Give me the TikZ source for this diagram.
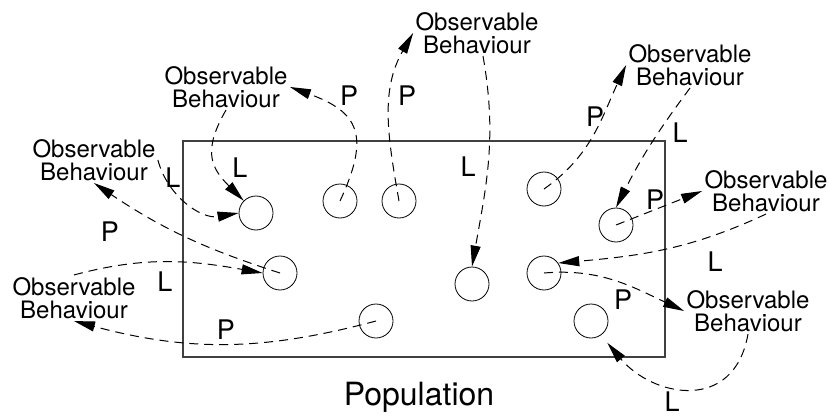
\documentclass[tikz,border=0pt]{standalone}
\usepackage{fontspec}
\setmainfont{TeX Gyre Heros}
\usetikzlibrary{arrows.meta}

\begin{document}
\begin{tikzpicture}[x=0.5pt, y=-0.5pt, >={Triangle[length=10.5pt,width=5pt]},
  every node/.style={font=\fontsize{13.5}{14}\selectfont},
  member/.style={draw, circle, minimum size=17pt, inner sep=0pt},
  behav/.style={align=center, inner sep=1pt, font=\fontsize{12}{11.5}\selectfont},
  link/.style={->, dash pattern=on 4.5pt off 3pt, line width=0.5pt}]
\useasboundingbox (0,0) rectangle (829,417);
\node[draw=black!75, line width=0.7pt, minimum width=241pt, minimum height=108pt, inner sep=0pt] (popbox) at (424,249) {};
\node[font=\fontsize{16}{18}\selectfont, anchor=base] (poplabel) at (419,405) {Population};
% members of the population
\node[member] (c1) at (256,213) {};
\node[member] (c2) at (340,201) {};
\node[member] (c3) at (399,201) {};
\node[member] (c4) at (280,273) {};
\node[member] (c5) at (376,321) {};
\node[member] (c6) at (472,284) {};
\node[member] (c7) at (544,273) {};
\node[member] (c8) at (544,189) {};
\node[member] (c9) at (616,225) {};
\node[member] (c10) at (591,321) {};
% observable behaviour
\node[behav] (ob1) at (477,33) {Observable\\Behaviour};
\node[behav] (ob2) at (226,87) {Observable\\Behaviour};
\node[behav] (ob3) at (94,160) {Observable\\Behaviour};
\node[behav] (ob4) at (690,65) {Observable\\Behaviour};
\node[behav] (ob5) at (766,191) {Observable\\Behaviour};
\node[behav] (ob6) at (74,298) {Observable\\Behaviour};
\node[behav] (ob7) at (748,311) {Observable\\Behaviour};
% P and L marks
\node (p1) at (349,96) {P};
\node (p2) at (407,96) {P};
\node (p3) at (110,232) {P};
\node (p4) at (226,330) {P};
\node (p5) at (595,117) {P};
\node (p6) at (655,200) {P};
\node (p7) at (623,300) {P};
\node (l1) at (240,168) {L};
\node (l2) at (173,178) {L};
\node (l3) at (165,282) {L};
\node (l4) at (468,167) {L};
\node (l5) at (680,133) {L};
\node (l6) at (715,262) {L};
\node[inner sep=0pt] (l7) at (672,402) {L};
% connectors
\draw[link] (c2.center) to[out=65,in=-20,looseness=1.5] (ob2.east);
\draw[link] (c3.center) to[out=100,in=-120] (ob1.west);
\draw[link] ([xshift=3pt]ob1.south) to[out=-80,in=80] (c6.north);
\draw[link] (ob2.south) to[out=-120,in=135,looseness=1.3] (c1.north west);
\draw[link] (ob3.east) to[out=-75,in=190] (c1.west);
\draw[link] (c4.center) to[bend left=8] (ob3.south);
\draw[link] (ob6.north) to[out=15,in=170] (c4.west);
\draw[link] (c5.center) to[out=195,in=-15] (ob6.south);
\draw[link] (c8.center) to[out=35,in=-115] (ob4.west);
\draw[link] (ob4.south) to[bend right=5] (c9.north);
\draw[link] (c9.center) -- (ob5.west);
\draw[link] (ob5.south) to[out=-155,in=5] (c7.35);
\draw[link] (c7.center) to[out=5,in=155] (ob7.west);
\draw[link, shorten >=5pt] (ob7.south) to[out=-100,in=-50,looseness=1.4] (c10.-55);
\end{tikzpicture}
\end{document}
